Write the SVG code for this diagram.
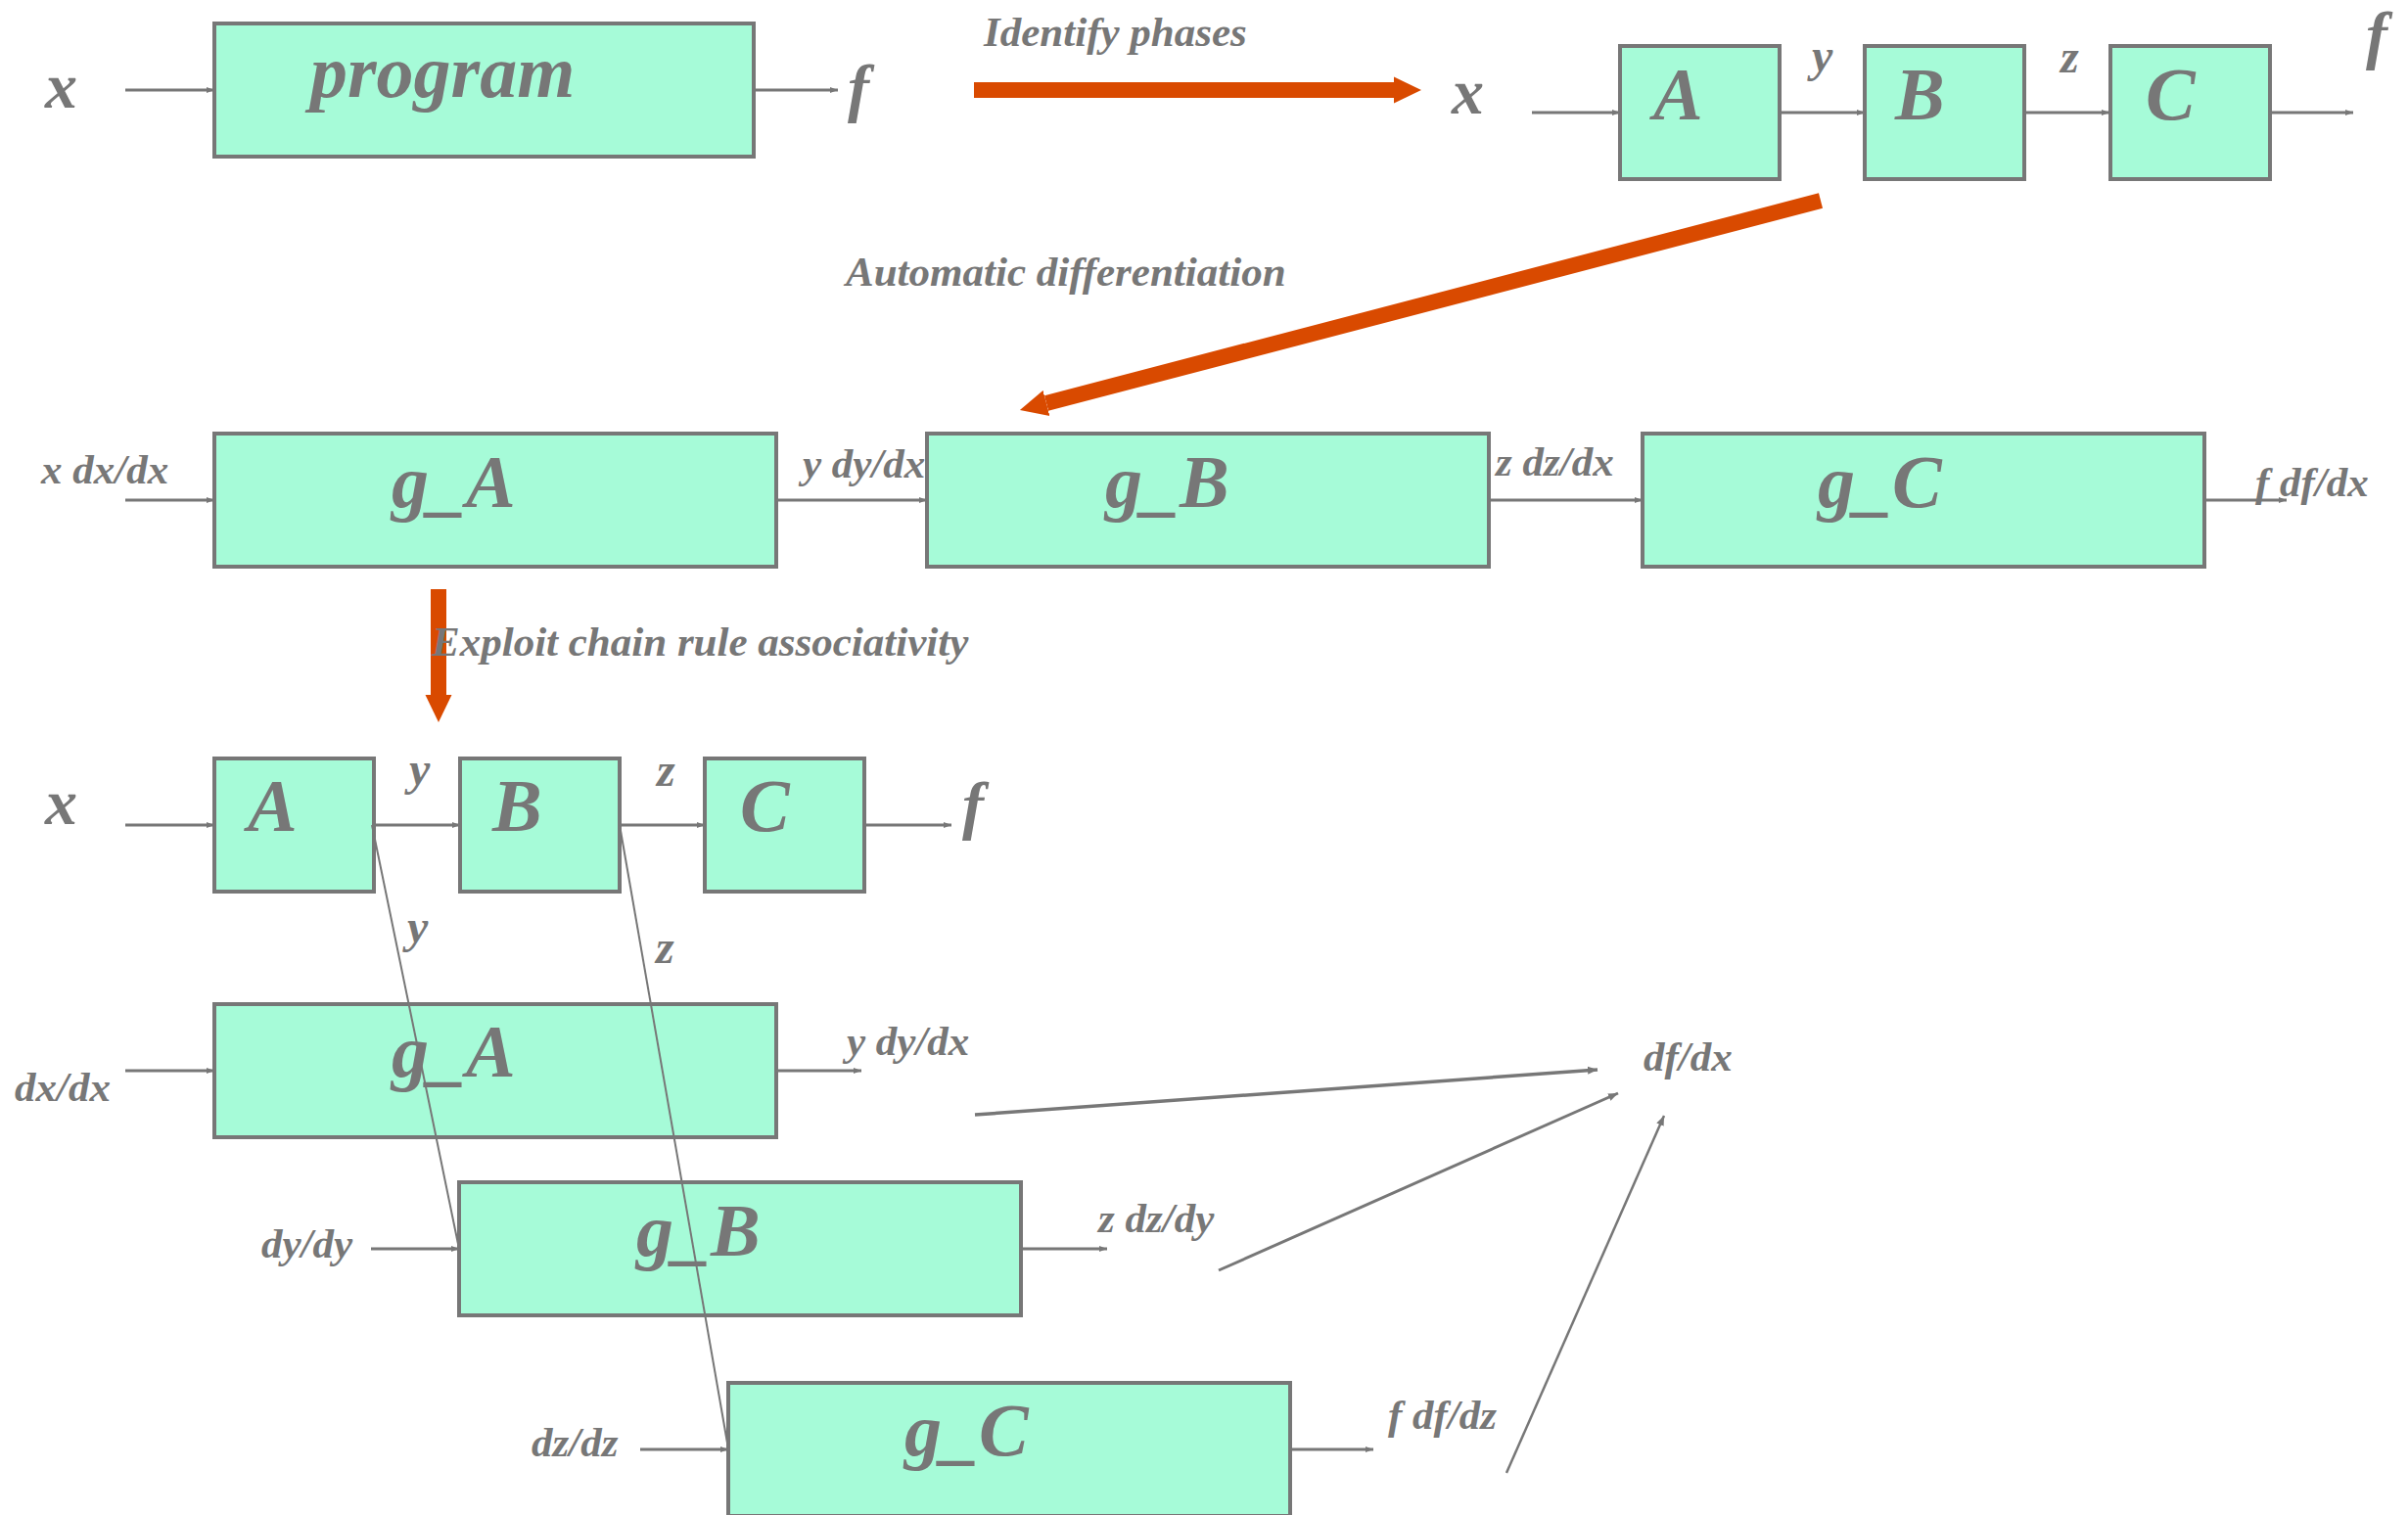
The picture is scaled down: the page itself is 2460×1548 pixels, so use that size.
<svg xmlns="http://www.w3.org/2000/svg" width="2460" height="1548" viewBox="0 0 2460 1548">
<style>
text{font-family:"Liberation Serif","Times New Roman",serif;font-weight:bold;font-style:italic;fill:#777777}
.big{font-size:76px}
.var{font-size:66px}
.let{font-size:48px}
.lab{font-size:43px}
.box{fill:#A6FBD8;stroke:#777777;stroke-width:4}
.c{stroke:#777777;stroke-width:3;fill:none}
.t{stroke:#777777;stroke-width:2;fill:none}
.o{stroke:#D94A00;stroke-width:16;fill:none}
</style>
<defs>
<marker id="ah" markerUnits="userSpaceOnUse" viewBox="0 0 8 8" markerWidth="8" markerHeight="8" refX="8" refY="4" orient="auto">
<path d="M0,1 L8,4 L0,7 z" fill="#777777"/>
</marker>
<marker id="ah2" markerUnits="userSpaceOnUse" viewBox="0 0 10 10" markerWidth="10" markerHeight="10" refX="10" refY="5" orient="auto">
<path d="M0,1 L10,5 L0,9 z" fill="#777777"/>
</marker>
<marker id="oh" markerUnits="userSpaceOnUse" viewBox="0 -14 28 28" markerWidth="28" markerHeight="28" refX="0" refY="0" orient="auto">
<path d="M0,-13.5 L28,0 L0,13.5 z" fill="#D94A00"/>
</marker>
</defs>

<g id="program"><rect class="box" x="219" y="24" width="551" height="136"/><text class="big" x="317" y="99">program</text></g>
<g id="top-A"><rect class="box" x="1655" y="47" width="163" height="136"/><text class="big" x="1689" y="122">A</text></g>
<g id="top-B"><rect class="box" x="1905" y="47" width="163" height="136"/><text class="big" x="1936" y="122">B</text></g>
<g id="top-C"><rect class="box" x="2156" y="47" width="163" height="136"/><text class="big" x="2192" y="122">C</text></g>

<g id="mid-gA"><rect class="box" x="219" y="443" width="574" height="136"/><text class="big" x="400" y="518">g_A</text></g>
<g id="mid-gB"><rect class="box" x="947" y="443" width="574" height="136"/><text class="big" x="1129" y="518">g_B</text></g>
<g id="mid-gC"><rect class="box" x="1678" y="443" width="574" height="136"/><text class="big" x="1857" y="518">g_C</text></g>

<g id="bot-A"><rect class="box" x="219" y="775" width="163" height="136"/><text class="big" x="253" y="849">A</text></g>
<g id="bot-B"><rect class="box" x="470" y="775" width="163" height="136"/><text class="big" x="503" y="849">B</text></g>
<g id="bot-C"><rect class="box" x="720" y="775" width="163" height="136"/><text class="big" x="756" y="849">C</text></g>

<g id="bot-gA"><rect class="box" x="219" y="1026" width="574" height="136"/><text class="big" x="400" y="1100">g_A</text></g>
<g id="bot-gB"><rect class="box" x="469" y="1208" width="574" height="136"/><text class="big" x="650" y="1283">g_B</text></g>
<g id="bot-gC"><rect class="box" x="744" y="1413" width="574" height="136"/><text class="big" x="924" y="1487">g_C</text></g>

<g id="connectors">
<line class="c" x1="128" y1="92" x2="219" y2="92" marker-end="url(#ah)"/>
<line class="c" x1="770" y1="92" x2="856" y2="92" marker-end="url(#ah)"/>
<line class="c" x1="1565" y1="115" x2="1655" y2="115" marker-end="url(#ah)"/>
<line class="c" x1="1818" y1="115" x2="1905" y2="115" marker-end="url(#ah)"/>
<line class="c" x1="2068" y1="115" x2="2155" y2="115" marker-end="url(#ah)"/>
<line class="c" x1="2318" y1="115" x2="2404" y2="115" marker-end="url(#ah)"/>
<line class="c" x1="128" y1="511" x2="219" y2="511" marker-end="url(#ah)"/>
<line class="c" x1="793" y1="511" x2="947" y2="511" marker-end="url(#ah)"/>
<line class="c" x1="1521" y1="511" x2="1678" y2="511" marker-end="url(#ah)"/>
<line class="c" x1="2252" y1="511" x2="2336" y2="511" marker-end="url(#ah)"/>
<line class="c" x1="128" y1="843" x2="219" y2="843" marker-end="url(#ah)"/>
<line class="c" x1="382" y1="843" x2="470" y2="843" marker-end="url(#ah)"/>
<line class="c" x1="633" y1="843" x2="720" y2="843" marker-end="url(#ah)"/>
<line class="c" x1="884" y1="843" x2="972" y2="843" marker-end="url(#ah)"/>
<line class="t" x1="380" y1="843" x2="469" y2="1276"/>
<line class="t" x1="633" y1="843" x2="744" y2="1480"/>
<line class="c" x1="128" y1="1094" x2="219" y2="1094" marker-end="url(#ah)"/>
<line class="c" x1="793" y1="1094" x2="880" y2="1094" marker-end="url(#ah)"/>
<line class="c" x1="379" y1="1276" x2="469" y2="1276" marker-end="url(#ah)"/>
<line class="c" x1="1043" y1="1276" x2="1131" y2="1276" marker-end="url(#ah)"/>
<line class="c" x1="654" y1="1481" x2="744" y2="1481" marker-end="url(#ah)"/>
<line class="c" x1="1318" y1="1481" x2="1403" y2="1481" marker-end="url(#ah)"/>
<line class="c" style="stroke-width:3.5" x1="996" y1="1139" x2="1632" y2="1093" marker-end="url(#ah2)"/>
<line class="c" x1="1245" y1="1298" x2="1653" y2="1117" marker-end="url(#ah2)"/>
<line class="c" style="stroke-width:2.5" x1="1539" y1="1505" x2="1700" y2="1140" marker-end="url(#ah2)"/>
<line class="o" x1="995" y1="92" x2="1424" y2="92" marker-end="url(#oh)"/>
<line class="o" x1="1860" y1="205" x2="1069" y2="412" marker-end="url(#oh)"/>
<line class="o" x1="448" y1="602" x2="448" y2="710" marker-end="url(#oh)"/>
</g>

<g id="labels">
<text class="var" x="46" y="110">x</text>
<text class="var" x="866" y="112">f</text>
<text class="lab" x="1005" y="47">Identify phases</text>
<text class="var" x="1483" y="116">x</text>
<text class="let" x="1851" y="73">y</text>
<text class="let" x="2105" y="74">z</text>
<text class="var" x="2417" y="58">f</text>
<text class="lab" x="864" y="292">Automatic differentiation</text>
<text class="lab" x="42" y="494">x dx/dx</text>
<text class="lab" x="820" y="488">y dy/dx</text>
<text class="lab" x="1528" y="486">z dz/dx</text>
<text class="lab" x="2304" y="507">f df/dx</text>
<text class="lab" x="441" y="670">Exploit chain rule associativity</text>
<text class="var" x="46" y="842">x</text>
<text class="let" x="418" y="802">y</text>
<text class="let" x="671" y="803">z</text>
<text class="var" x="983" y="845">f</text>
<text class="let" x="416" y="963">y</text>
<text class="let" x="670" y="984">z</text>
<text class="lab" x="15" y="1125">dx/dx</text>
<text class="lab" x="267" y="1285">dy/dy</text>
<text class="lab" x="543" y="1488">dz/dz</text>
<text class="lab" x="865" y="1078">y dy/dx</text>
<text class="lab" x="1122" y="1259">z dz/dy</text>
<text class="lab" x="1418" y="1460">f df/dz</text>
<text class="lab" x="1679" y="1094">df/dx</text>
</g>
</svg>
